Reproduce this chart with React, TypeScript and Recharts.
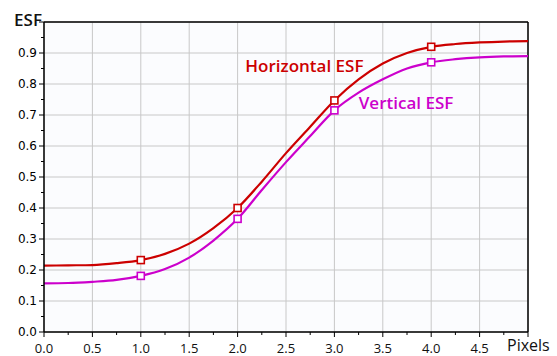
import React from 'react';
import { LineChart, Line, XAxis, YAxis, CartesianGrid, ReferenceLine, ReferenceDot } from 'recharts';

const pixels = [0, 0.25, 0.5, 0.75, 1, 1.25, 1.5, 1.75, 2, 2.25, 2.5, 2.75, 3, 3.25, 3.5, 3.75, 4, 4.25, 4.5, 4.75, 5];
const horizontalEsf = [0.214, 0.215, 0.216, 0.222, 0.232, 0.252, 0.285, 0.335, 0.4, 0.485, 0.577, 0.662, 0.747, 0.815, 0.866, 0.9, 0.92, 0.929, 0.934, 0.937, 0.938];
const verticalEsf = [0.157, 0.158, 0.162, 0.168, 0.181, 0.203, 0.24, 0.295, 0.365, 0.458, 0.548, 0.632, 0.715, 0.772, 0.815, 0.85, 0.87, 0.88, 0.886, 0.889, 0.89];
const markerPixels = [1, 2, 3, 4];

const xMajor = [0, 0.5, 1, 1.5, 2, 2.5, 3, 3.5, 4, 4.5, 5];
const xTicks = [0, 0.25, 0.5, 0.75, 1, 1.25, 1.5, 1.75, 2, 2.25, 2.5, 2.75, 3, 3.25, 3.5, 3.75, 4, 4.25, 4.5, 4.75, 5];
const yMajor = [0, 0.1, 0.2, 0.3, 0.4, 0.5, 0.6, 0.7, 0.8, 0.9, 1];
const yTicks = [0, 0.05, 0.1, 0.15, 0.2, 0.25, 0.3, 0.35, 0.4, 0.45, 0.5, 0.55, 0.6, 0.65, 0.7, 0.75, 0.8, 0.85, 0.9, 0.95, 1];

const RED = '#cc0000';
const MAGENTA = '#cc00cc';

const data = pixels.map((x, i) => ({ x, h: horizontalEsf[i], v: verticalEsf[i] }));

const isMajor = (list: number[], v: number) => list.some((m) => Math.abs(m - v) < 1e-6);

const XTick = (props: any) => {
  const { x, y, payload } = props;
  const major = isMajor(xMajor, payload.value);
  const showLabel = major && payload.value < 4.9;
  return (
    <g>
      <line x1={x} x2={x} y1={y} y2={y + (major ? 5 : 3)} stroke="#000" />
      {showLabel && (
        <text x={x} y={y + 21} textAnchor="middle" fontSize={13} fontFamily="Open Sans" fill="#111">
          {payload.value.toFixed(1)}
        </text>
      )}
    </g>
  );
};

const YTick = (props: any) => {
  const { x, y, payload } = props;
  const major = isMajor(yMajor, payload.value);
  const showLabel = major && payload.value < 0.95;
  return (
    <g>
      <line x1={x} x2={x - (major ? 5 : 3)} y1={y} y2={y} stroke="#000" />
      {showLabel && (
        <text x={x - 7} y={y + 4.3} textAnchor="end" fontSize={12} fontFamily="DejaVu Sans" fill="#000">
          {payload.value.toFixed(1)}
        </text>
      )}
    </g>
  );
};

const squareDot = (color: string) => (props: any) => {
  const { cx, cy, payload, index } = props;
  if (!markerPixels.includes(payload.x)) return <g key={`d-${index}`} />;
  return (
    <rect key={`d-${index}`} x={cx - 3.5} y={cy - 3.5} width={7} height={7} fill="#fff" stroke={color} strokeWidth={1.6} />
  );
};

export default function App() {
  return (
    <div style={{ position: 'absolute', left: 0, top: 0, width: 557, height: 356, background: '#fff' }}>
      <LineChart width={557} height={356} data={data} margin={{ top: 22, right: 29, left: 0, bottom: 0 }}>
        <CartesianGrid
          stroke="#c8c8c8"
          fill="#fbfcfe"
          verticalValues={xMajor}
          horizontalValues={yMajor}
        />
        <XAxis
          dataKey="x"
          type="number"
          domain={[0, 5]}
          ticks={xTicks}
          interval={0}
          height={24}
          tickSize={0}
          tickMargin={0}
          tickLine={false}
          axisLine={{ stroke: '#000', strokeWidth: 1.5 }}
          tick={<XTick />}
        />
        <YAxis
          type="number"
          domain={[0, 1]}
          ticks={yTicks}
          interval={0}
          width={44}
          tickSize={0}
          tickMargin={0}
          tickLine={false}
          axisLine={{ stroke: '#000', strokeWidth: 1.5 }}
          tick={<YTick />}
        />
        <ReferenceLine y={1} stroke="#000" strokeWidth={1.5} />
        <ReferenceLine x={5} stroke="#000" strokeWidth={1.5} />
        <Line
          type="monotone"
          dataKey="h"
          stroke={RED}
          strokeWidth={2.2}
          dot={squareDot(RED)}
          activeDot={false}
          isAnimationActive={false}
        />
        <Line
          type="monotone"
          dataKey="v"
          stroke={MAGENTA}
          strokeWidth={2.2}
          dot={squareDot(MAGENTA)}
          activeDot={false}
          isAnimationActive={false}
        />
        <ReferenceDot
          x={2.69}
          y={0.858}
          r={0}
          fill="none"
          stroke="none"
          label={{ value: 'Horizontal ESF', position: 'center', fill: RED, fontSize: 17, fontWeight: 600, fontFamily: 'Open Sans' }}
        />
        <ReferenceDot
          x={3.74}
          y={0.739}
          r={0}
          fill="none"
          stroke="none"
          label={{ value: 'Vertical ESF', position: 'center', fill: MAGENTA, fontSize: 17, fontWeight: 600, fontFamily: 'Open Sans' }}
        />
        <text x={42} y={26} textAnchor="end" fontSize={17} fontWeight={600} fontFamily="Open Sans" fill="#111">
          ESF
        </text>
        <text x={507} y={351} textAnchor="start" fontSize={16} fontFamily="Open Sans" fill="#111">
          Pixels
        </text>
      </LineChart>
    </div>
  );
}
